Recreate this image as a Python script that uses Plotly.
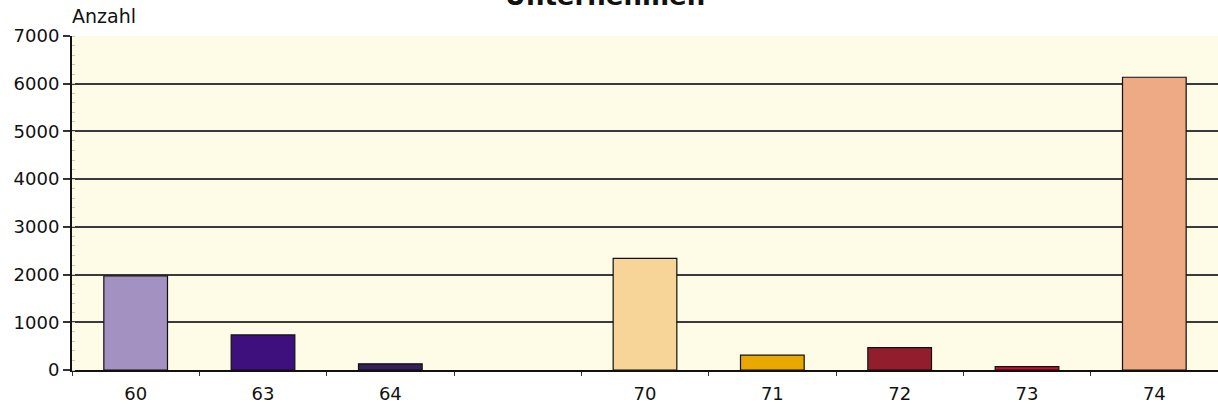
import plotly.graph_objects as go

categories = ["60", "63", "64", " ", "70", "71", "72", "73", "74"]
values = [1970, 735, 130, None, 2340, 310, 470, 70, 6135]
bar_colors = ["#A391C2", "#3E107D", "#35215A", "#FFFFFF", "#F7D497",
              "#E9A800", "#921E2D", "#C8102E", "#EEAA84"]
y_ticks = [0, 1000, 2000, 3000, 4000, 5000, 6000, 7000]

FONT = "DejaVu Sans, Liberation Sans, Arial, sans-serif"

fig = go.Figure(go.Bar(
    x=categories, y=values,
    marker=dict(color=bar_colors, line=dict(color="#111111", width=1.2)),
    width=0.5,
))

fig.update_layout(
    width=1218, height=406,
    margin=dict(l=72, r=0, t=36, b=36),
    paper_bgcolor="white",
    plot_bgcolor="#FEFBE7",
    showlegend=False,
    font=dict(family=FONT, size=18, color="#111111"),
    title=dict(text="<b>Unternehmen</b>", x=605 / 1218, xanchor="center",
               xref="container", yref="container", y=1 - 5 / 406, yanchor="bottom",
               font=dict(size=26, family=FONT, color="#111111")),
    annotations=[dict(text="Anzahl", xref="paper", yref="paper", x=0, y=1,
                      xanchor="left", yanchor="bottom", showarrow=False,
                      yshift=7, xshift=-2,
                      font=dict(size=19, family=FONT, color="#111111"))],
)

fig.update_xaxes(
    type="category", categoryorder="array", categoryarray=categories,
    tickson="boundaries", ticks="outside", ticklen=4, tickcolor="#333333",
    showgrid=False, showline=True, linecolor="#111111", linewidth=2,
    tickfont=dict(size=18), ticklabelstandoff=6, fixedrange=True,
)
fig.update_yaxes(
    range=[0, 7000], tickvals=y_ticks, ticks="outside", ticklen=7,
    tickcolor="#333333", tickwidth=1.5,
    showgrid=True, gridcolor="#3A3A3A", gridwidth=1.6,
    showline=True, linecolor="#111111", linewidth=2,
    zeroline=False, tickfont=dict(size=18), fixedrange=True,
    minor=dict(ticks="inside", ticklen=3, tickwidth=1, dtick=200,
               tickcolor="#C8C8C8", showgrid=False),
)

fig.write_html("out.html", config={"displayModeBar": False},
               post_script="document.body.style.margin='0';")
